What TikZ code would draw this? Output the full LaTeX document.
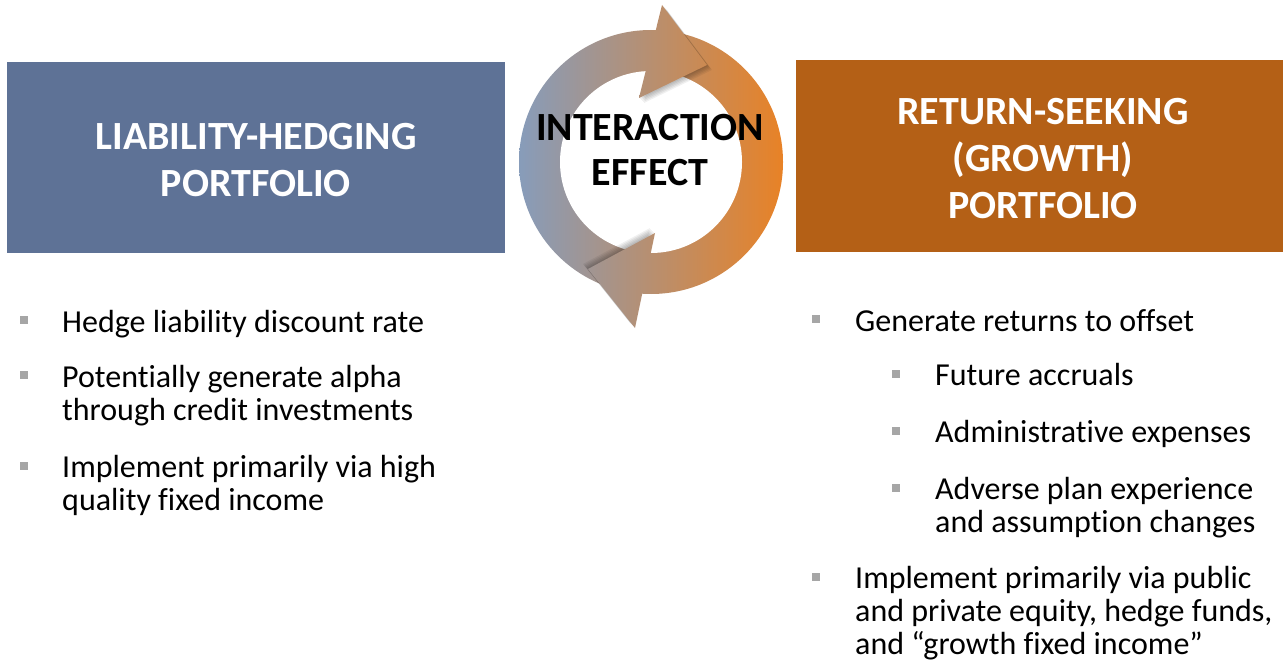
\documentclass[tikz,border=0pt]{standalone}
\usepackage{fontspec}
\setmainfont{Carlito}[Ligatures=NoCommon]
\usepackage{tikz}
\definecolor{lhblue}{HTML}{5E7296}
\definecolor{rsorange}{HTML}{B46016}
\definecolor{ringL}{RGB}{135,156,186}
\definecolor{ringR}{RGB}{232,130,38}
\definecolor{bulgray}{HTML}{A6A6A6}

\begin{document}
\begin{tikzpicture}[x=1pt,y=-1pt,
    pbox/.style={rectangle,inner sep=0pt},
    ptitle/.style={inner sep=0pt,text=white,align=center,font=\fontsize{40}{47}\selectfont\bfseries},
    bul/.style={rectangle,fill=bulgray,minimum size=8pt,inner sep=0pt},
    item/.style={anchor=base west,inner sep=0pt,align=left,font=\fontsize{32}{33}\selectfont}]
  \clip (0,0) rectangle (1283,663);
  \node[pbox,fill=lhblue,minimum width=498pt,minimum height=191pt] (lhp) at (256,157.5) {};
  \node[ptitle] (lhpt) at ([yshift=-3pt]lhp.center) {LIABILITY-HEDGING\\PORTFOLIO};
  \node[pbox,fill=rsorange,minimum width=494pt,minimum height=192pt] (rsp) at (1043,156) {};
  \node[ptitle] (rspt) at ([yshift=-3pt]rsp.center) {RETURN-SEEKING\\(GROWTH)\\PORTFOLIO};

  % ring
  \coordinate (c) at (651,162);
  \begin{scope}
    \clip (c) circle[radius=132];
    \shade[left color=ringL,right color=ringR] (519,0) rectangle (783,340);
  \end{scope}
  \fill[white] (c) circle[radius=91];

  % arrow heads
  \coordinate (ttip) at (707,65);
  \coordinate (ta) at (662,5);
  \coordinate (tb) at (639,98);
  \coordinate (btip) at (588,269);
  \coordinate (ba) at (655,233);
  \coordinate (bb) at (635,328);
  \foreach \s in {1,...,5}{
    \fill[black,opacity=0.06] ([shift={(\s,\s)}]ttip) -- ([shift={(\s,\s)}]ta) -- ([shift={(\s,\s)}]tb) -- cycle;
    \fill[black,opacity=0.06] ([shift={(-\s,-\s)}]btip) -- ([shift={(-\s,-\s)}]ba) -- ([shift={(-\s,-\s)}]bb) -- cycle;
  }
  \begin{scope}
    \clip (ttip) -- (ta) -- (tb) -- cycle;
    \shade[left color=ringL,right color=ringR] (519,0) rectangle (783,340);
  \end{scope}
  \begin{scope}
    \clip (btip) -- (ba) -- (bb) -- cycle;
    \shade[left color=ringL,right color=ringR] (519,0) rectangle (783,340);
  \end{scope}
  \node[font=\fontsize{40}{45}\selectfont\bfseries,align=center,inner sep=0pt] (effect) at (650,150) {INTERACTION\\EFFECT};

  % left list (base = last line)
  \node[bul] (l1) at (23.5,320) {};
  \node[item] (l1t) at (62,332) {Hedge liability discount rate};
  \node[bul] (l2) at (23.5,375) {};
  \node[item] (l2t) at (62,420) {Potentially generate alpha\\through credit investments};
  \node[bul] (l3) at (23.5,466) {};
  \node[item] (l3t) at (62,510) {Implement primarily via high\\quality fixed income};

  % right list
  \node[bul] (r1) at (816,319) {};
  \node[item] (r1t) at (855,331) {Generate returns to offset};
  \node[bul] (r2) at (896,374) {};
  \node[item] (r2t) at (935,385) {Future accruals};
  \node[bul] (r3) at (896,431) {};
  \node[item] (r3t) at (935,442) {Administrative expenses};
  \node[bul] (r4) at (896,488) {};
  \node[item] (r4t) at (935,532) {Adverse plan experience\\and assumption changes};
  \node[bul] (r5) at (816,577) {};
  \node[item] (r5t) at (855,654) {Implement primarily via public\\and private equity, hedge funds,\\and “growth fixed income”};
\end{tikzpicture}
\end{document}
